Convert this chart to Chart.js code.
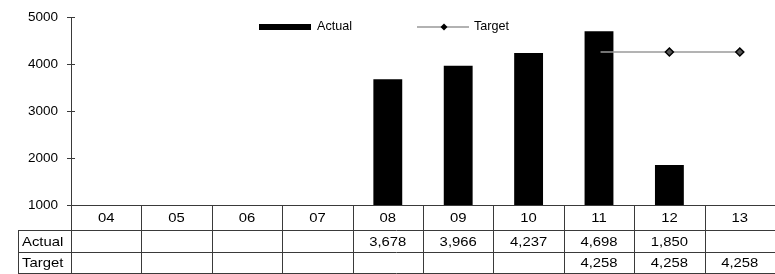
<!DOCTYPE html>
<html>
<head>
<meta charset="utf-8">
<script src="https://cdn.jsdelivr.net/npm/chart.js@4/dist/chart.umd.min.js"></script>
<style>
html,body{margin:0;padding:0;background:#fff;}
#wrap{width:775px;height:274px;position:relative;}
</style>
</head>
<body>
<div id="wrap"><canvas id="c" width="775" height="274"></canvas></div>
<script>
const categories = ['04','05','06','07','08','09','10','11','12','13'];
const actualValues = [null,null,null,null,3678,3966,4237,4698,1850,null];
const targetValues = [null,null,null,null,null,null,null,4258,4258,4258];
const yTicks = [1000,2000,3000,4000,5000];
const seriesNames = ['Actual','Target'];

const FONT = "'Liberation Sans', Arial, sans-serif";
const LINE = '#3a3a3a';

function fmt(v){ return v == null ? '' : v.toLocaleString('en-US'); }

function stretchText(ctx, txt, x, y, align, sx){
  ctx.save();
  ctx.translate(x, y);
  ctx.scale(sx, 1);
  ctx.textAlign = align;
  ctx.fillText(txt, 0, 0);
  ctx.restore();
}

const tablePlugin = {
  id: 'tablePlugin',
  afterDraw(chart){
    const ctx = chart.ctx;
    const x = chart.scales.x, y = chart.scales.y;
    const area = chart.chartArea;
    const left = area.left, right = area.right, top = area.bottom;
    const rowH = [25, 22, 22];
    const r1 = top + rowH[0], r2 = r1 + rowH[1], r3 = r2 + rowH[2];
    const labelLeft = 18;
    const n = categories.length;
    const w = (right - left) / n;
    ctx.save();
    ctx.strokeStyle = LINE;
    ctx.lineWidth = 1;
    ctx.beginPath();
    ctx.moveTo(left, top + 0.5); ctx.lineTo(right, top + 0.5);
    ctx.moveTo(labelLeft, r1 + 0.5); ctx.lineTo(right, r1 + 0.5);
    ctx.moveTo(labelLeft, r2 + 0.5); ctx.lineTo(right, r2 + 0.5);
    ctx.moveTo(labelLeft, r3 - 0.5); ctx.lineTo(right, r3 - 0.5);
    ctx.moveTo(labelLeft + 0.5, r1); ctx.lineTo(labelLeft + 0.5, r3);
    for (let i = 0; i < n; i++) {
      const cx = x.getPixelForValue(i);
      const bx = Math.round(cx - w / 2) + 0.5;
      ctx.moveTo(bx, top); ctx.lineTo(bx, r3);
    }
    yTicks.forEach(t => {
      const py = Math.round(y.getPixelForValue(t)) + 0.5;
      ctx.moveTo(left, py); ctx.lineTo(left + 4, py);
    });
    ctx.stroke();

    ctx.fillStyle = '#000';
    ctx.font = '13.5px ' + FONT;
    ctx.textBaseline = 'middle';
    const SX = 1.1;
    const m0 = top + rowH[0] / 2 + 1, m1 = r1 + rowH[1] / 2 + 1, m2 = r2 + rowH[2] / 2 + 0.5;
    for (let i = 0; i < n; i++) {
      const cx = x.getPixelForValue(i);
      stretchText(ctx, categories[i], cx, m0, 'center', SX);
      stretchText(ctx, fmt(actualValues[i]), cx, m1, 'center', SX);
      stretchText(ctx, fmt(targetValues[i]), cx, m2, 'center', SX);
    }
    stretchText(ctx, seriesNames[0], labelLeft + 4, m1, 'left', SX);
    stretchText(ctx, seriesNames[1], labelLeft + 4, m2, 'left', SX);

    // legend
    const ly = 27;
    ctx.font = '12.6px ' + FONT;
    ctx.textAlign = 'left';
    ctx.fillStyle = '#000';
    ctx.fillRect(259, ly - 3, 52, 6);
    ctx.fillText(seriesNames[0], 317, ly);
    ctx.strokeStyle = '#999';
    ctx.lineWidth = 1.5;
    ctx.beginPath(); ctx.moveTo(417, ly); ctx.lineTo(469, ly); ctx.stroke();
    ctx.fillStyle = '#000';
    ctx.beginPath();
    ctx.moveTo(444, ly - 3.5); ctx.lineTo(447.5, ly); ctx.lineTo(444, ly + 3.5); ctx.lineTo(440.5, ly); ctx.closePath();
    ctx.fill();
    ctx.fillText(seriesNames[1], 474, ly);
    ctx.restore();
  }
};

new Chart(document.getElementById('c'), {
  data: {
    labels: categories,
    datasets: [
      {
        type: 'line',
        label: seriesNames[1],
        data: targetValues,
        borderColor: '#9a9a9a',
        borderWidth: 1.5,
        pointStyle: 'rectRot',
        pointRadius: [0,0,0,0,0,0,0,1,4,4],
        pointBackgroundColor: '#555',
        pointBorderColor: '#000',
        pointBorderWidth: 1.5,
        spanGaps: false,
        clip: false,
        order: 0
      },
      {
        type: 'bar',
        label: seriesNames[0],
        data: actualValues,
        backgroundColor: '#000',
        borderWidth: 0,
        barPercentage: 0.41,
        categoryPercentage: 1,
        order: 1
      }
    ]
  },
  options: {
    responsive: false,
    animation: false,
    layout: { autoPadding: false, padding: { top: 17, right: -1, bottom: 69, left: 0 } },
    plugins: { legend: { display: false }, tooltip: { enabled: false } },
    scales: {
      x: {
        type: 'category',
        offset: true,
        display: false,
        grid: { display: false }
      },
      y: {
        min: 1000,
        max: 5000,
        afterFit(s){ s.width = 71; },
        afterBuildTicks(s){ s.ticks = yTicks.map(v => ({ value: v })); },
        ticks: { color: '#000', font: { family: FONT, size: 13.5 }, padding: 9, callback: v => String(v) },
        grid: { drawOnChartArea: false, drawTicks: true, tickLength: 4, color: LINE },
        border: { display: true, color: LINE, width: 1 }
      }
    }
  },
  plugins: [tablePlugin]
});
</script>
</body>
</html>
